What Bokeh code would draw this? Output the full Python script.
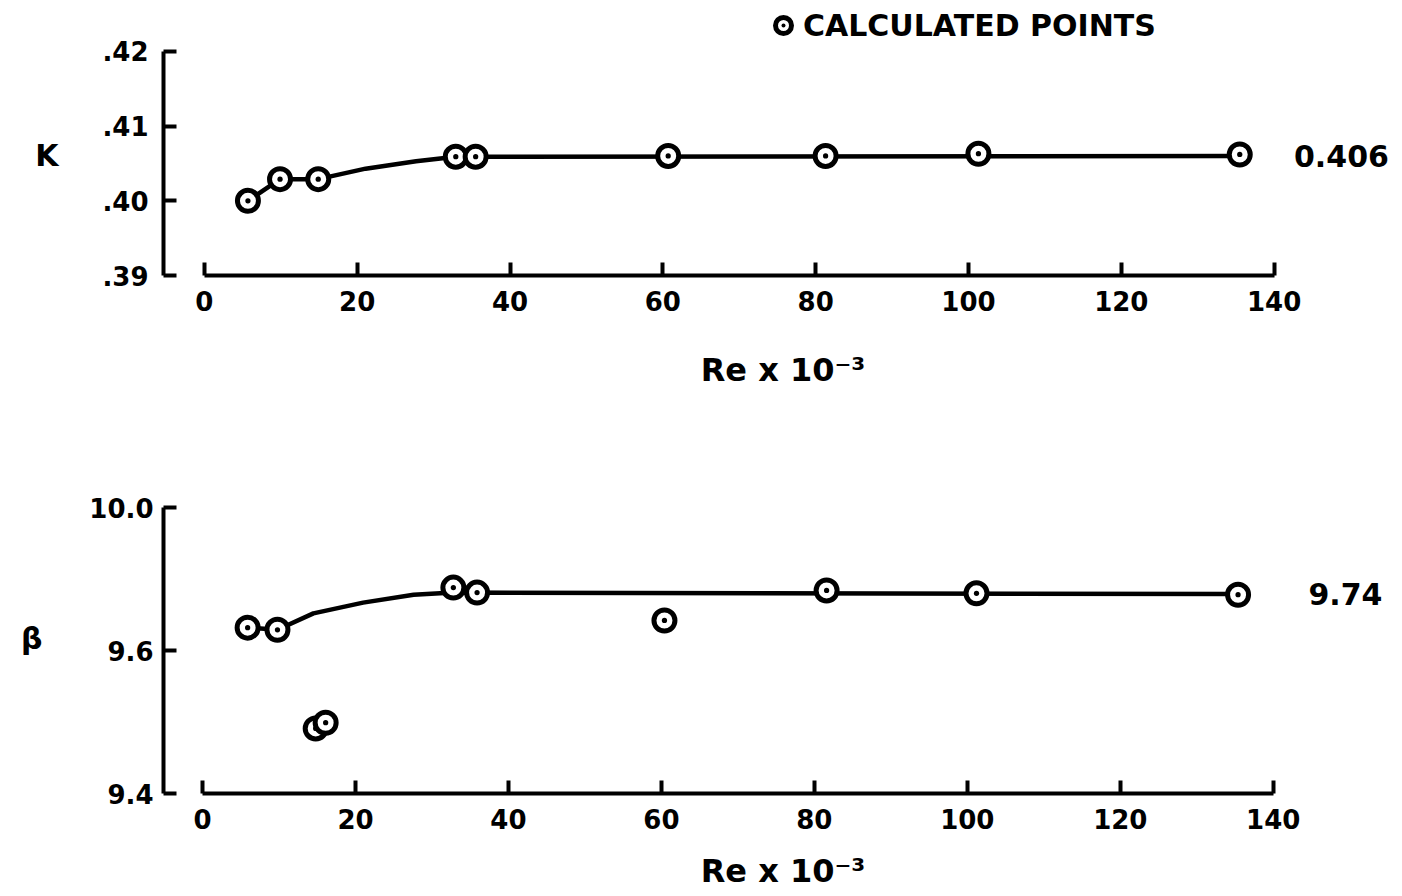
from bokeh.plotting import figure
from bokeh.layouts import column
from bokeh.models import Range1d, FixedTicker, Legend, LegendItem, Label
from bokeh.embed import file_html
from bokeh.resources import INLINE

# ---- data ----
re_ticks = [0, 20, 40, 60, 80, 100, 120, 140]
x_label = "Re x 10\u207b\u00b3"
legend_text = "CALCULATED POINTS"

# K vs Re
re_k = [5.7, 9.9, 14.9, 32.9, 35.5, 60.7, 81.3, 101.3, 135.5]
k_vals = [0.4000, 0.4029, 0.4029, 0.4059, 0.4059, 0.4060, 0.4060, 0.4063, 0.4062]
re_k_curve = [5.7, 9.9, 14.9, 21.1, 27.7, 32.9, 135.5]
k_curve = [0.4000, 0.4029, 0.4029, 0.4043, 0.4053, 0.4059, 0.4060]
k_limit_text = "0.406"
k_ticks = [0.39, 0.40, 0.41, 0.42]
k_tick_labels = [".39", ".40", ".41", ".42"]

# beta vs Re
re_b = [5.9, 9.8, 14.8, 16.1, 32.8, 35.9, 60.4, 81.6, 101.2, 135.4]
b_vals = [9.632, 9.629, 9.491, 9.499, 9.688, 9.681, 9.642, 9.684, 9.680, 9.678]
re_b_curve = [5.9, 9.8, 14.5, 21.0, 27.6, 32.8, 135.4]
b_curve = [9.632, 9.629, 9.652, 9.667, 9.678, 9.681, 9.679]
b_limit_text = "9.74"
b_ticks = [9.4, 9.6, 9.8]
b_tick_labels = ["9.4", "9.6", "10.0"]

FONT = "DejaVu Sans"


def make_fig(height, xr, yr, mbl, mbt, mbb, yticks, ylabels, ylab,
             ylab_standoff, ytick_standoff, xtick_standoff, xlab_standoff):
    p = figure(width=1402, height=height,
               x_range=Range1d(*xr), y_range=Range1d(*yr),
               output_backend="svg", toolbar_location=None,
               min_border_left=mbl, min_border_right=0,
               min_border_top=mbt, min_border_bottom=mbb)
    p.outline_line_color = None
    p.grid.visible = False
    p.background_fill_color = "white"
    p.border_fill_color = "white"
    for ax in p.axis:
        ax.axis_line_width = 4
        ax.axis_line_color = "black"
        ax.major_tick_line_width = 4
        ax.major_tick_line_color = "black"
        ax.major_tick_in = 13
        ax.major_tick_out = 0
        ax.minor_tick_in = 0
        ax.minor_tick_out = 0
        ax.major_label_text_font = FONT
        ax.major_label_text_font_style = "bold"
        ax.major_label_text_font_size = "26px"
        ax.major_label_text_color = "black"
        ax.axis_label_text_font = FONT
        ax.axis_label_text_font_style = "bold"
        ax.axis_label_text_color = "black"
    p.xaxis.bounds = (re_ticks[0], re_ticks[-1])
    p.xaxis.ticker = FixedTicker(ticks=re_ticks)
    p.xaxis.axis_label = x_label
    p.xaxis.axis_label_text_font_size = "32px"
    p.xaxis.major_label_standoff = xtick_standoff
    p.xaxis.axis_label_standoff = xlab_standoff
    p.yaxis.bounds = (yticks[0], yticks[-1])
    p.yaxis.ticker = FixedTicker(ticks=yticks)
    p.yaxis.major_label_overrides = {t: l for t, l in zip(yticks, ylabels)}
    p.yaxis.axis_label = ylab
    p.yaxis.axis_label_orientation = "horizontal"
    p.yaxis.axis_label_text_font_size = "30px"
    p.yaxis.axis_label_standoff = ylab_standoff
    p.yaxis.major_label_standoff = ytick_standoff
    return p


# top panel: K  (frame reaches the top edge so the legend fits inside it;
# a blank first line drops the "K" to the level it has in the reference)
p1 = make_fig(400, (-5.35, 156.8), (0.39, 0.42681), 160, 0, 125,
              k_ticks, k_tick_labels, "\nK", 41, 15, 15, 37)
p1.yaxis.axis_label_text_line_height = 1.0
p1.line(re_k_curve, k_curve, line_width=4.5, color="black", line_join="round")
r_k = p1.scatter(re_k, k_vals, marker="circle_dot", size=21, line_width=5,
                 line_color="black", fill_color="white")
p1.add_layout(Label(x=142.6, y=k_curve[-1], text=k_limit_text,
                    text_baseline="middle", text_font=FONT,
                    text_font_style="bold", text_font_size="30px",
                    text_color="black"))
legend = Legend(items=[LegendItem(label=legend_text, renderers=[r_k])],
                location=(600, 230), orientation="horizontal",
                glyph_width=40, glyph_height=40, label_height=40,
                label_standoff=0, padding=0, margin=0, spacing=0,
                border_line_color=None, background_fill_alpha=0,
                label_text_font=FONT, label_text_font_style="bold",
                label_text_font_size="30px", label_text_color="black")
p1.add_layout(legend)

# bottom panel: beta
p2 = make_fig(496, (-5.1, 156.9), (9.4, 9.8336), 163, 83, 103,
              b_ticks, b_tick_labels, "\u03b2", 44, 10, 15, 20)
p2.line(re_b_curve, b_curve, line_width=4.5, color="black", line_join="round")
p2.scatter(re_b, b_vals, marker="circle_dot", size=21, line_width=5,
           line_color="black", fill_color="white")
p2.add_layout(Label(x=144.6, y=b_curve[-1], text=b_limit_text,
                    text_baseline="middle", text_font=FONT,
                    text_font_style="bold", text_font_size="30px",
                    text_color="black"))

layout = column(p1, p2, spacing=0)
open("out.html", "w").write(file_html(layout, INLINE, title="K and beta vs Re"))
